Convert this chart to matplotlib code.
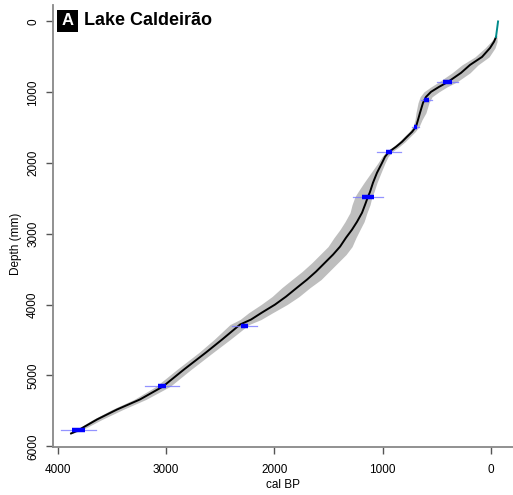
import matplotlib.pyplot as plt
from matplotlib.patches import Rectangle

plt.rcParams['font.family'] = ['Liberation Sans', 'DejaVu Sans']

# age-depth model for Lake Caldeirao core (depth in mm, age in cal BP)
depth = [219, 285, 374, 501, 614, 726, 853, 924, 994, 1065, 1149, 1291,
         1389, 1488, 1559, 1629, 1700, 1770, 1841, 1911, 1996, 2137, 2278,
         2405, 2475, 2588, 2701, 2828, 2941, 3054, 3180, 3293, 3406, 3533,
         3646, 3759, 3886, 3999, 4111, 4210, 4281, 4493, 4675, 4915, 5155,
         5338, 5480, 5621, 5776, 5819]
age_median = [-46, -28, 9, 83, 194, 277, 397, 480, 554, 600, 628, 656,
              674, 693, 729, 776, 822, 877, 942, 979, 1006, 1053, 1090,
              1117, 1136, 1163, 1191, 1237, 1284, 1339, 1394, 1459, 1533,
              1616, 1699, 1791, 1893, 1995, 2115, 2216, 2318, 2484, 2632,
              2835, 3029, 3241, 3453, 3638, 3814, 3878]
age_old = [-37, 0, 55, 148, 268, 360, 480, 554, 619, 655, 674, 693,
           702, 721, 757, 804, 850, 905, 970, 1007, 1043, 1108, 1173,
           1228, 1256, 1283, 1302, 1348, 1395, 1450, 1505, 1579, 1653,
           1745, 1838, 1930, 2022, 2124, 2235, 2318, 2410, 2558, 2697,
           2900, 3094, 3296, 3499, 3675, 3842, 3887]
age_young = [-55, -56, -37, 18, 120, 194, 314, 406, 480, 545, 573, 601,
             637, 665, 701, 748, 794, 849, 914, 951, 978, 1016, 1053,
             1080, 1099, 1117, 1145, 1172, 1210, 1247, 1283, 1339, 1413,
             1496, 1570, 1671, 1773, 1884, 2013, 2124, 2235, 2410, 2567,
             2770, 2964, 3186, 3398, 3592, 3786, 3869]

# surface section
top_depth = [0, 219]
top_age = [-65, -46]

# dated levels (calibrated)
date_depth = [853, 1107, 1488, 1841, 2475, 4295, 5155, 5776]
date_age = [402, 595, 697, 942, 1136, 2276, 3038, 3808]
date_err = [97, 50, 32, 111, 138, 115, 157, 162]
date_core = [40, 20, 15, 25, 55, 35, 40, 60]

fig = plt.figure(figsize=(5.13, 4.95), dpi=100)
ax = fig.add_axes([0.1033, 0.097, 0.8967, 0.893])

ax.fill_betweenx(depth, age_young, age_old, color='#bebebe', lw=0)
ax.plot(age_median, depth, color='black', lw=1.4)
ax.plot(top_age, top_depth, color='#008b8b', lw=1.4)

for d, a, e, c in zip(date_depth, date_age, date_err, date_core):
    ax.plot([a - e, a + e], [d, d], color='#7878ff', lw=0.9, alpha=0.8)
    ax.plot([a - c, a + c], [d, d], color='#0000ff', lw=3.2, solid_capstyle='butt')

ax.set_xlim(4045, -203)
ax.set_ylim(6010, -233)
ax.set_xticks([4000, 3000, 2000, 1000, 0])
ax.set_yticks([0, 1000, 2000, 3000, 4000, 5000, 6000])

for side in ['top', 'right']:
    ax.spines[side].set_visible(False)
for side in ['left', 'bottom']:
    ax.spines[side].set_color('#888888')
    ax.spines[side].set_linewidth(1.3)

ax.tick_params(colors='#555555', labelcolor='black', labelsize=8.5, length=5, width=1)
ax.tick_params(axis='x', pad=7)
ax.tick_params(axis='y', pad=5)
for lab in ax.get_yticklabels():
    lab.set_rotation(90)
    lab.set_va('center')

ax.set_xlabel('cal BP', fontsize=8.5)
ax.xaxis.set_label_coords(0.5, -0.073)
ax.set_ylabel('Depth (mm)', fontsize=8.5)
ax.yaxis.set_label_coords(-0.068, 0.459)

# panel letter and site name
ax.add_patch(Rectangle((0.0087, 0.939), 0.0457, 0.0498, transform=ax.transAxes,
                       facecolor='black', edgecolor='none', clip_on=False))
ax.text(0.0315, 0.964, 'A', transform=ax.transAxes, color='white', fontsize=12,
        fontweight='bold', va='center', ha='center')
ax.text(0.0674, 0.964, 'Lake Caldeirão', transform=ax.transAxes, fontsize=13,
        fontweight='bold', va='center', ha='left')

fig.savefig('out.png', dpi=100)
